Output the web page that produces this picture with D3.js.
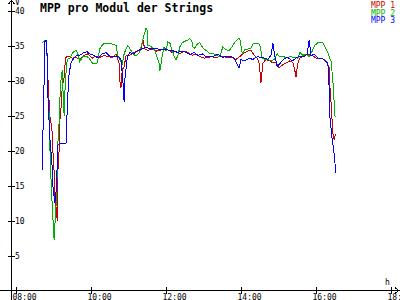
<!DOCTYPE html>
<html>
<head>
<meta charset="utf-8">
<script src="https://cdn.jsdelivr.net/npm/d3@7"></script>
<style>
  body { margin: 0; background: #fff; }
  svg { display: block; font-family: "DejaVu Sans Mono", monospace; }
</style>
</head>
<body>
<div id="chart"></div>
<script>
// values: [time, volt]
var mpp1 = [["8:42",35.4],["8:48",35.8],["8:50",33.5],["8:51",30.5],["8:53",27],["8:54",25],["8:56",24],["8:58",22.5],["8:59",20],["9:01",17],["9:02",13],["9:04",12],["9:06",10],["9:07",17],["9:09",20],["9:10",24],["9:12",26],["9:14",29],["9:17",30.5],["9:18",32],["9:20",33.3],["9:23",33.5],["9:30",33.2],["9:36",33.3],["9:42",33],["9:49",33.6],["9:55",33.8],["10:02",33.2],["10:08",33.5],["10:14",33.3],["10:21",33.6],["10:27",33.4],["10:34",33.3],["10:40",33.8],["10:45",32.5],["10:46",30],["10:48",29],["10:50",31.5],["10:53",32],["10:56",33.5],["11:02",33.6],["11:09",34],["11:15",34.2],["11:20",34.5],["11:23",35.8],["11:26",34.5],["11:31",34.3],["11:38",34.5],["11:44",34.2],["11:50",34.3],["11:57",34.6],["12:03",34.4],["12:10",34],["12:16",34.2],["12:22",33.8],["12:29",34.2],["12:35",34],["12:42",33.6],["12:48",33.8],["12:54",33.4],["13:01",33.2],["13:07",33.3],["13:14",33.4],["13:20",33.2],["13:26",33.5],["13:33",33.4],["13:39",33.2],["13:46",33.3],["13:52",33],["13:58",33.4],["14:03",33.8],["14:10",34.2],["14:16",34.3],["14:21",33.6],["14:26",33.2],["14:29",32.5],["14:32",29.7],["14:35",32.5],["14:40",33],["14:46",32.8],["14:51",32.5],["14:56",32.6],["15:01",31.8],["15:06",32.2],["15:12",32.5],["15:18",32.8],["15:23",32.6],["15:26",31.5],["15:28",30.5],["15:31",32.5],["15:34",33.2],["15:41",33.6],["15:47",33.8],["15:54",33.6],["16:00",33.2],["16:06",33.2],["16:13",33],["16:18",32.6],["16:21",31.8],["16:22",29.5],["16:24",27],["16:26",24],["16:27",22.5],["16:29",21.5],["16:30",22],["16:32",22.3]];

var mpp2 = [["8:42",35.4],["8:48",35.8],["8:50",33],["8:51",28],["8:53",25.4],["8:54",21],["8:56",16],["8:58",12],["8:59",10.5],["9:01",7.2],["9:02",9],["9:04",12],["9:06",17],["9:07",21],["9:09",24],["9:10",27],["9:12",30],["9:14",31.5],["9:15",29],["9:17",25],["9:18",28],["9:20",31],["9:22",33],["9:26",33.2],["9:31",34],["9:36",34.3],["9:39",33.8],["9:42",32.7],["9:47",33.4],["9:52",33.5],["9:57",33.2],["10:03",32.4],["10:10",32.5],["10:14",34.5],["10:19",35.2],["10:27",35.3],["10:35",35.2],["10:40",35],["10:43",33.5],["10:46",33],["10:50",32.4],["10:53",33.8],["10:56",34.5],["10:59",35],["11:04",34.3],["11:07",33.8],["11:12",33.5],["11:18",34],["11:22",35.5],["11:25",36.5],["11:28",37.5],["11:30",37.2],["11:31",35],["11:34",35],["11:39",34.6],["11:42",34.3],["11:46",33.2],["11:49",32.5],["11:50",31.3],["11:54",33.5],["11:57",34.8],["12:00",34.2],["12:03",35.5],["12:06",35.4],["12:10",34.3],["12:13",33.4],["12:16",33],["12:19",33.5],["12:22",34.8],["12:26",35.4],["12:30",35.6],["12:35",35.8],["12:38",36],["12:42",35.5],["12:43",34.8],["12:46",34.6],["12:50",35.2],["12:54",35.4],["12:58",34.8],["13:01",34.5],["13:06",34.2],["13:10",33.8],["13:15",33.9],["13:20",33.6],["13:26",33.4],["13:31",34.8],["13:36",34.4],["13:41",34.3],["13:46",34.8],["13:50",35.5],["13:55",35.9],["13:58",36],["14:02",33.8],["14:06",34.4],["14:11",34.5],["14:16",34.6],["14:19",35.2],["14:24",35.3],["14:30",35.2],["14:34",33.2],["14:38",33],["14:43",33],["14:48",32.8],["14:53",33],["14:58",33.8],["15:02",33.4],["15:07",33.5],["15:12",33.2],["15:18",33.4],["15:25",33.3],["15:31",33.2],["15:34",34],["15:39",33.6],["15:44",33.8],["15:49",33.4],["15:54",34.2],["15:58",35],["16:03",35.4],["16:08",35.5],["16:11",35.4],["16:14",34.8],["16:18",34.2],["16:21",33.4],["16:24",32.8],["16:27",30],["16:29",27],["16:30",25],["16:32",24.8]];

var mpp3 = [["8:42",17.2],["8:43",22],["8:45",30],["8:46",35.5],["8:48",35.8],["8:50",33.4],["8:51",28],["8:53",24],["8:54",22],["8:58",17.5],["8:59",15],["9:02",12.5],["9:04",14],["9:06",18],["9:07",20.8],["9:10",21],["9:20",21],["9:22",26],["9:23",28],["9:25",31],["9:28",32.5],["9:31",33],["9:36",33.5],["9:42",33.6],["9:49",34],["9:54",34.1],["9:58",33.8],["10:05",33.6],["10:11",33.2],["10:18",33.8],["10:24",34],["10:30",33.5],["10:37",33.4],["10:43",33.5],["10:48",33],["10:51",30],["10:53",27],["10:54",30],["10:58",33.3],["11:02",34],["11:09",33.8],["11:15",34.3],["11:22",34.5],["11:28",34.8],["11:34",34.5],["11:41",34.6],["11:47",34.5],["11:54",34.5],["12:00",34.4],["12:06",34.3],["12:13",34.2],["12:19",34],["12:26",34.2],["12:32",34],["12:38",33.7],["12:45",34],["12:51",33.6],["12:58",33.8],["13:04",33.4],["13:10",33.5],["13:17",33.5],["13:23",33.8],["13:30",33.3],["13:36",33.4],["13:42",33.5],["13:49",33.2],["13:54",32.3],["13:57",31.8],["14:00",33],["14:06",32.8],["14:13",33.2],["14:19",33],["14:26",33.4],["14:32",33.3],["14:38",33.2],["14:43",33],["14:48",33.6],["14:51",35.3],["14:54",33.5],["14:58",32],["15:02",32.4],["15:09",33.1],["15:15",33.3],["15:22",32.8],["15:28",33.2],["15:34",33.5],["15:41",33.4],["15:46",33.8],["15:49",35.8],["15:52",33.5],["15:57",33.8],["16:03",33.2],["16:10",33.2],["16:14",32.8],["16:19",32.5],["16:21",29],["16:22",25],["16:26",21.5],["16:27",21],["16:29",19.5],["16:30",18.5],["16:32",16.8]];

var seriesNames = ["MPP 1", "MPP 2", "MPP 3"];
var seriesColors = ["#cc0000", "#00b000", "#0000ff"];
var yTicks = [5, 10, 15, 20, 25, 30, 35, 40];
var xTicks = ["08:00", "10:00", "12:00", "14:00", "16:00", "18:00"];

var width = 400, height = 300;
var parseTime = d3.timeParse("%H:%M");

var svg = d3.select("#chart").append("svg")
    .attr("width", width)
    .attr("height", height);

var x = d3.scaleTime()
    .domain([parseTime("08:00"), parseTime("18:00")])
    .range([16, 391]);

var y = d3.scaleLinear()
    .domain([0, 40])
    .range([290.5, 10.5]);

// axis lines with arrows
svg.append("g")
    .attr("stroke", "#000")
    .attr("fill", "none")
    .attr("shape-rendering", "crispEdges")
    .selectAll("path")
    .data([
      "M11.5,0V300",
      "M0,290.5H399",
      "M8.5,4L11.5,0.5L14.5,4",
      "M395,287.5L399,290.5L395,293.5"
    ])
    .enter().append("path")
      .attr("d", function(d) { return d; });

// y axis ticks
var yAxis = svg.append("g")
    .attr("transform", "translate(8,0)")
    .call(d3.axisRight(y).tickValues(yTicks).tickSize(7).tickPadding(0));
yAxis.select(".domain").remove();
yAxis.selectAll("line").attr("shape-rendering", "crispEdges").attr("stroke", "#000");
yAxis.selectAll("text")
    .attr("x", 7)
    .attr("font-size", 8)
    .attr("font-family", "DejaVu Sans Mono")
    .attr("fill", "#000");

// x axis ticks
var xAxis = svg.append("g")
    .attr("transform", "translate(0,287)")
    .call(d3.axisBottom(x)
      .tickValues(xTicks.map(parseTime))
      .tickFormat(d3.timeFormat("%H:%M"))
      .tickSize(7));
xAxis.select(".domain").remove();
xAxis.selectAll("line").attr("shape-rendering", "crispEdges").attr("stroke", "#000");
xAxis.selectAll("text")
    .attr("text-anchor", "start")
    .attr("x", -4)
    .attr("y", 12.5)
    .attr("dy", 0)
    .attr("font-size", 8)
    .attr("font-family", "DejaVu Sans Mono")
    .attr("fill", "#000");

// unit labels
svg.append("text").attr("x", 15).attr("y", 5).attr("font-size", 8).text("V");
svg.append("text").attr("x", 385).attr("y", 285).attr("font-size", 8).text("h");

// title
svg.append("text")
    .attr("x", 40)
    .attr("y", 12)
    .attr("font-size", 11.5)
    .attr("font-weight", "bold")
    .text("MPP pro Modul der Strings");

// lines
var line = d3.line()
    .x(function(d) { return x(parseTime(d[0])); })
    .y(function(d) { return y(d[1]); });

[mpp1, mpp2, mpp3].forEach(function(s, i) {
  svg.append("path")
    .datum(s)
    .attr("fill", "none")
    .attr("stroke", seriesColors[i])
    .attr("stroke-width", 1)
    .attr("shape-rendering", "crispEdges")
    .attr("d", line);
});

// legend
svg.append("g")
  .selectAll("text")
  .data(seriesNames)
  .enter().append("text")
    .attr("x", 395)
    .attr("y", function(d, i) { return 8 + i * 7.5; })
    .attr("text-anchor", "end")
    .attr("font-size", 8)
    .attr("fill", function(d, i) { return seriesColors[i]; })
    .text(function(d) { return d; });
</script>
</body>
</html>
